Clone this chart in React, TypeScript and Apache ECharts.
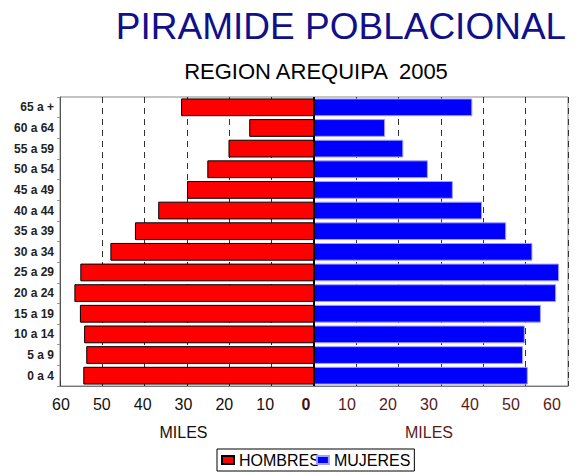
import React, { useEffect, useRef } from "react";
import * as echarts from "echarts";

const categories = ["0 a 4", "5 a 9", "10 a 14", "15 a 19", "20 a 24", "25 a 29", "30 a 34", "35 a 39", "40 a 44", "45 a 49", "50 a 54", "55 a 59", "60 a 64", "65 a +"];
const hombres = [54.5, 53.8, 54.3, 55.3, 56.6, 55.2, 48.1, 42.3, 36.8, 30.0, 25.2, 20.2, 15.3, 31.4];
const mujeres = [50.5, 49.4, 49.8, 53.6, 57.2, 57.9, 51.6, 45.4, 39.7, 32.8, 26.9, 21.1, 16.8, 37.4];
const seriesNames = ["HOMBRES", "MUJERES"];
const titleText = "PIRAMIDE POBLACIONAL";
const subtitleText = "REGION AREQUIPA  2005";
const axisName = "MILES";

const FONT = "'Liberation Sans', Arial, sans-serif";

export default function App() {
  const ref = useRef<HTMLDivElement>(null);
  useEffect(() => {
    if (!ref.current) return;
    const chart = echarts.init(ref.current, undefined, { renderer: "svg" });
    const gTop = 97;
    const gBottom = 89;
    chart.setOption({
      animation: false,
      backgroundColor: "#ffffff",
      textStyle: { fontFamily: FONT },
      title: [
        {
          text: titleText,
          left: 336,
          textAlign: "center",
          top: 3,
          textStyle: { fontSize: 37, fontWeight: "normal", color: "#10108a", fontFamily: FONT },
        },
        {
          text: subtitleText,
          left: 311,
          textAlign: "center",
          top: 55,
          textStyle: { fontSize: 22, fontWeight: "normal", color: "#000000", fontFamily: FONT },
        },
      ],
      legend: {
        data: seriesNames,
        icon: "rect",
        left: 217,
        top: 449,
        padding: [3, 4, 3, 4],
        borderColor: "#000",
        borderWidth: 1,
        itemWidth: 12,
        itemHeight: 8,
        itemGap: -4,
        textStyle: { fontSize: 16, color: "#000", fontFamily: FONT },
      },
      grid: [
        { left: 60, right: 19, top: gTop, bottom: gBottom, show: true, borderColor: "#888", borderWidth: 1 },
        { left: 61, width: 245, top: gTop, bottom: gBottom },
        { left: 306, width: 246, top: gTop, bottom: gBottom },
      ],
      xAxis: [
        {
          gridIndex: 0,
          type: "value",
          min: -60,
          max: 60,
          interval: 10,
          axisLabel: { show: false },
          axisLine: { show: true, lineStyle: { color: "#777" } },
          axisTick: { show: true, inside: true, length: 5, lineStyle: { color: "#333" } },
          splitLine: { show: true, lineStyle: { color: "#333", type: [6, 5], width: 1 } },
        },
        {
          gridIndex: 1,
          type: "value",
          min: 0,
          max: 60,
          interval: 10,
          inverse: true,
          axisLine: { show: false },
          axisTick: { show: false },
          splitLine: { show: false },
          axisLabel: { showMinLabel: false, color: "#111", fontSize: 16, margin: 10, fontFamily: FONT },
          name: axisName,
          nameLocation: "middle",
          nameGap: 38,
          nameTextStyle: { fontSize: 16, color: "#111", fontFamily: FONT },
        },
        {
          gridIndex: 2,
          type: "value",
          min: 0,
          max: 60,
          interval: 10,
          axisLine: { show: false },
          axisTick: { show: false },
          splitLine: { show: false },
          axisLabel: {
            color: "#5a1a1a",
            fontSize: 16,
            margin: 10,
            fontFamily: FONT,
            formatter: (v: number) => (v === 0 ? "{b|0}" : String(v)),
            rich: { b: { fontWeight: "bold", color: "#4a1010", fontSize: 16, fontFamily: FONT } },
          },
          name: axisName,
          nameLocation: "middle",
          nameGap: 38,
          nameTextStyle: { fontSize: 16, color: "#5a1a1a", fontFamily: FONT },
        },
      ],
      yAxis: [
        {
          gridIndex: 0,
          type: "category",
          data: categories,
          axisLine: { show: true, onZero: false, lineStyle: { color: "#555" } },
          axisTick: { show: true, length: 3, lineStyle: { color: "#999" } },
          axisLabel: { fontSize: 12, fontWeight: "bold", color: "#222", margin: 6, fontFamily: FONT },
        },
        { gridIndex: 1, type: "value", show: false },
        { gridIndex: 2, type: "value", show: false },
      ],
      series: [
        {
          name: seriesNames[0],
          type: "bar",
          xAxisIndex: 0,
          yAxisIndex: 0,
          data: hombres.map((v) => -v),
          barWidth: "86%",
          barGap: "-100%",
          itemStyle: { color: "#ff0000", borderColor: "#000", borderWidth: 1 },
        },
        {
          name: seriesNames[1],
          type: "bar",
          xAxisIndex: 0,
          yAxisIndex: 0,
          data: mujeres,
          barWidth: "86%",
          barGap: "-100%",
          itemStyle: { color: "#0000ff", borderColor: "#a0a0ff", borderWidth: 1 },
          markLine: {
            silent: true,
            symbol: ["none", "none"],
            label: { show: false },
            lineStyle: { color: "#000", width: 2, type: "solid" },
            data: [{ xAxis: 0 }],
          },
        },
      ],
    });
    return () => chart.dispose();
  }, []);
  return <div ref={ref} style={{ position: "fixed", left: 0, top: 0, width: 587, height: 475 }} />;
}
